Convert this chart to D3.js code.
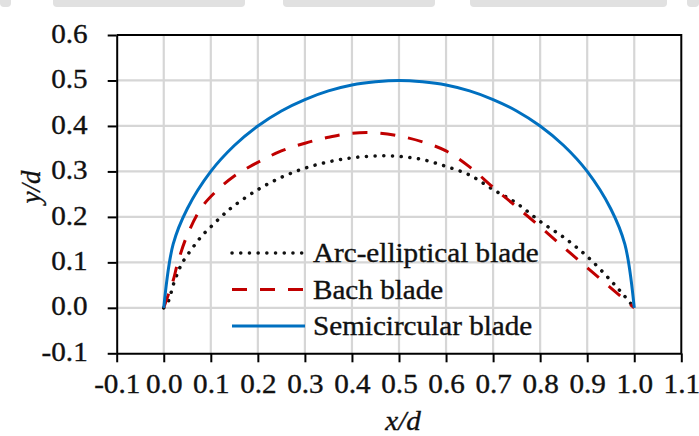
<!DOCTYPE html>
<html>
<head>
<meta charset="utf-8">
<style>
  body { margin: 0; background: #fff; }
  svg { display: block; }
  text { font-family: "Liberation Serif", "Times New Roman", serif; fill: #111; stroke: #111; stroke-width: 0.35px; }
  .wide { transform-box: fill-box; transform: scaleX(1.1); }
</style>
</head>
<body>
<svg id="chart" width="699" height="436"></svg>

<script src="https://d3js.org/d3.v7.min.js"></script>
<script>
  // ticks
  const xTicks = [-0.1, 0.0, 0.1, 0.2, 0.3, 0.4, 0.5, 0.6, 0.7, 0.8, 0.9, 1.0, 1.1]
  const yTicks = [-0.1, 0.0, 0.1, 0.2, 0.3, 0.4, 0.5, 0.6]

  // Arc-elliptical blade
  const arcX = [0, 0.01, 0.02, 0.03, 0.04, 0.06, 0.08, 0.1, 0.13, 0.15, 0.2, 0.25, 0.3, 0.35, 0.4, 0.45, 0.5, 0.55, 0.6, 0.65, 0.7, 0.75, 0.8, 0.85, 0.9, 0.95, 0.98, 1.0]
  const arcY = [0, 0.015, 0.05, 0.078, 0.1, 0.13, 0.157, 0.178, 0.208, 0.225, 0.26, 0.287, 0.307, 0.321, 0.33, 0.334, 0.333, 0.326, 0.311, 0.292, 0.26, 0.23, 0.19, 0.155, 0.113, 0.06, 0.025, 0]

  // Bach blade
  const bachX = [0, 0.01, 0.02, 0.03, 0.05, 0.08, 0.11, 0.15, 0.2, 0.25, 0.3, 0.35, 0.4, 0.45, 0.5, 0.55, 0.6, 0.65, 0.7, 0.75, 0.8, 0.85, 0.9, 0.95, 1.0]
  const bachY = [0, 0.03, 0.06, 0.1, 0.16, 0.22, 0.255, 0.29, 0.32, 0.345, 0.362, 0.375, 0.384, 0.385, 0.378, 0.365, 0.345, 0.31, 0.265, 0.222, 0.178, 0.133, 0.088, 0.044, 0]

  // Semicircular blade
  const semiX = [0, 0.02, 0.05, 0.1, 0.15, 0.2, 0.25, 0.3, 0.35, 0.4, 0.45, 0.5, 0.55, 0.6, 0.65, 0.7, 0.75, 0.8, 0.85, 0.9, 0.95, 0.98, 1.0]
  const semiY = [0, 0.14, 0.218, 0.3, 0.357, 0.4, 0.433, 0.458, 0.477, 0.49, 0.497, 0.5, 0.497, 0.49, 0.477, 0.458, 0.433, 0.4, 0.357, 0.3, 0.218, 0.14, 0]

  const series = [
    {name: 'Arc-elliptical blade', xs: arcX, ys: arcY, color: '#111', width: 3.5, dash: '0.1 8.6', cap: 'round'},
    {name: 'Bach blade', xs: bachX, ys: bachY, color: '#c00000', width: 3, dash: '15 13', cap: 'butt'},
    {name: 'Semicircular blade', xs: semiX, ys: semiY, color: '#0070c0', width: 3, dash: null, cap: 'butt'}
  ]

  const svg = d3.select('#chart')

  // grey strip at the very top of the picture
  const strip = [[0, 11], [53, 245], [283, 435], [470, 667], [687, 699]]
  svg.selectAll('rect.strip')
     .data(strip)
     .join('rect')
     .attr('class', 'strip')
     .attr('x', d => d[0])
     .attr('y', -6)
     .attr('width', d => d[1] - d[0])
     .attr('height', 13)
     .attr('rx', 4)
     .attr('fill', '#e1e1e1')

  const x = d3.scaleLinear().domain([-0.1, 1.1]).range([116.7, 681.3])
  const y = d3.scaleLinear().domain([-0.1, 0.6]).range([353.3, 35])

  // grid
  svg.append('g')
     .selectAll('line')
     .data(xTicks.slice(1, -1))
     .join('line')
     .attr('x1', d => x(d)).attr('x2', d => x(d))
     .attr('y1', y(0.6)).attr('y2', y(-0.1))
     .attr('stroke', '#d6d6d6').attr('stroke-width', 2.2)

  svg.append('g')
     .selectAll('line')
     .data(yTicks.slice(1, -1))
     .join('line')
     .attr('x1', x(-0.1)).attr('x2', x(1.1))
     .attr('y1', d => y(d)).attr('y2', d => y(d))
     .attr('stroke', '#d6d6d6').attr('stroke-width', 2.2)

  // frame top + right
  svg.append('path')
     .attr('d', `M${x(-0.1)},${y(0.6)}H${x(1.1)}V${y(-0.1)}`)
     .attr('fill', 'none')
     .attr('stroke', '#000')
     .attr('stroke-width', 2)

  // axes
  const fmt = d => d.toFixed(1)

  const xAxis = svg.append('g')
     .attr('transform', `translate(0,${y(-0.1)})`)
     .call(d3.axisBottom(x).tickValues(xTicks).tickFormat(fmt).tickSize(9).tickSizeOuter(0).tickPadding(12))
  const yAxis = svg.append('g')
     .attr('transform', `translate(${x(-0.1)},0)`)
     .call(d3.axisLeft(y).tickValues(yTicks).tickFormat(fmt).tickSize(9).tickSizeOuter(0).tickPadding(20))

  for (const ax of [xAxis, yAxis]) {
    ax.select('.domain').attr('stroke', '#000').attr('stroke-width', 2)
    ax.selectAll('.tick line').attr('stroke', '#000').attr('stroke-width', 2)
    ax.selectAll('.tick text')
      .attr('class', 'wide')
      .style('font-family', '"Liberation Serif", serif')
      .style('font-size', '26.5px')
      .attr('fill', '#111')
  }
  xAxis.selectAll('.tick text').style('transform-origin', 'center')
  yAxis.selectAll('.tick text').style('transform-origin', 'right center').attr('dy', '0.27em')

  // curves
  const line = d3.line()
                 .x(d => x(d[0]))
                 .y(d => y(d[1]))
                 .curve(d3.curveCatmullRom)

  svg.append('g')
     .selectAll('path')
     .data(series)
     .join('path')
     .attr('d', s => line(s.xs.map((v, i) => [v, s.ys[i]])))
     .attr('fill', 'none')
     .attr('stroke', s => s.color)
     .attr('stroke-width', s => s.width)
     .attr('stroke-dasharray', s => s.dash)
     .attr('stroke-linecap', s => s.cap)

  // legend
  const leg = svg.append('g')
                 .selectAll('g')
                 .data(series)
                 .join('g')
                 .attr('transform', (d, i) => `translate(232,${253 + i * 36.5})`)

  leg.append('line')
     .attr('x1', 0).attr('x2', 73)
     .attr('stroke', s => s.color)
     .attr('stroke-width', s => s.width)
     .attr('stroke-dasharray', s => s.dash)
     .attr('stroke-linecap', s => s.cap)

  leg.append('text')
     .attr('class', 'wide')
     .style('transform-origin', 'left center')
     .attr('x', 81)
     .attr('y', 9)
     .style('font-size', '26.5px')
     .text(s => s.name)

  // axis titles
  svg.append('text')
     .attr('class', 'wide')
     .style('transform-origin', 'center')
     .attr('x', 403)
     .attr('y', 430)
     .attr('text-anchor', 'middle')
     .style('font-size', '26.5px')
     .style('font-style', 'italic')
     .text('x/d')

  svg.append('text')
     .attr('transform', 'translate(40,187) rotate(-90)')
     .attr('text-anchor', 'middle')
     .style('font-size', '27px')
     .style('font-style', 'italic')
     .text('y/d')
</script>
</body>
</html>
